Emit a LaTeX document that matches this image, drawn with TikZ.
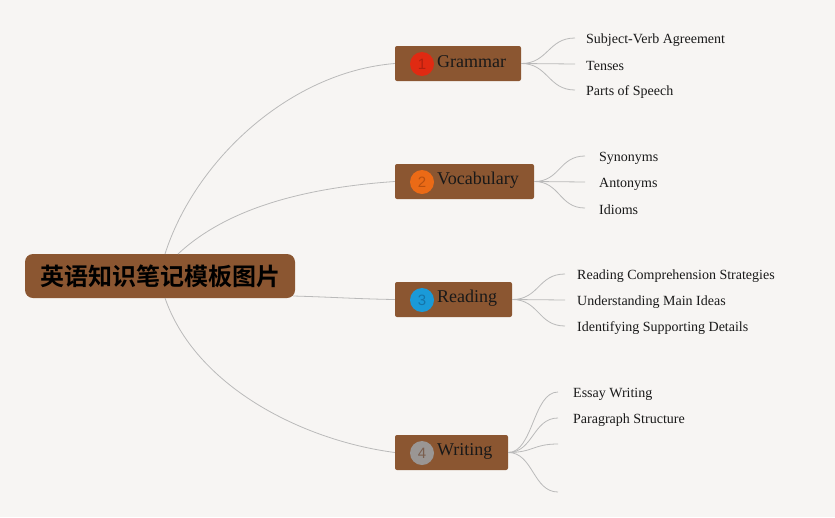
\documentclass[tikz,border=0pt]{standalone}
\usepackage{fontspec}
\setmainfont{Liberation Serif}
\setsansfont{Liberation Sans}
\newfontfamily\cjkbold{Noto Sans CJK SC}[BoldFont=* Bold]
\begin{document}
\begin{tikzpicture}[x=1pt,y=-1pt,
  conn/.style={draw=black!27, line width=0.8pt},
  topicbox/.style={fill=boxbrown, rounded corners=2pt, inner sep=0pt},
  numdot/.style={circle, inner sep=0pt, minimum size=24pt, font=\sffamily\fontsize{15}{15}\selectfont},
  toplabel/.style={anchor=west, inner sep=0pt, font=\fontsize{18}{20}\selectfont, text=black!90},
  leaf/.style={anchor=west, inner sep=0pt, font=\fontsize{14}{16}\selectfont, text=black!90}]
\definecolor{bg}{HTML}{F7F5F3}
\definecolor{boxbrown}{HTML}{8B5631}
\definecolor{redc}{HTML}{E02A12}
\definecolor{redt}{HTML}{B0200F}
\definecolor{orc}{HTML}{EB6A16}
\definecolor{ort}{HTML}{B8500F}
\definecolor{blc}{HTML}{1A9AD8}
\definecolor{blt}{HTML}{1574A8}
\definecolor{grc}{HTML}{9A9694}
\definecolor{grt}{HTML}{7A5E4E}
\fill[bg] (0,0) rectangle (835,517);
\useasboundingbox (0,0) rectangle (835,517);

% root
\node[fill=boxbrown, rounded corners=8pt, minimum width=270pt, minimum height=44pt, inner sep=0pt,
  font=\cjkbold\bfseries\fontsize{24}{27}\selectfont] (root) at (160,276) {英语知识笔记模板图片};

% topic boxes
\node[topicbox, minimum width=126pt, minimum height=35pt] (g) at (458,63.5) {};
\node[topicbox, minimum width=139pt, minimum height=35pt] (v) at (464.5,181.5) {};
\node[topicbox, minimum width=117pt, minimum height=35pt] (r) at (453.5,299.5) {};
\node[topicbox, minimum width=113pt, minimum height=35pt] (w) at (451.5,452.5) {};

\node[numdot, fill=redc, text=redt] (gn) at (422,64) {1};
\node[numdot, fill=orc, text=ort] (vn) at (422,182) {2};
\node[numdot, fill=blc, text=blt] (rn) at (422,300) {3};
\node[numdot, fill=grc, text=grt] (wn) at (422,453) {4};

\node[toplabel] (gl) at (437,62) {Grammar};
\node[toplabel] (vl) at (437,180) {Vocabulary};
\node[toplabel] (rl) at (437,298) {Reading};
\node[toplabel] (wl) at (437,451) {Writing};

% root connectors
\coordinate (rs1) at (165,254);
\coordinate (rs2) at (178,254);
\coordinate (rs3) at (293,296);
\coordinate (rs4) at (165,298);
\draw[conn] (rs1) .. controls (195,160) and (290,72) .. (g.west);
\draw[conn] (rs2) .. controls (225,210) and (300,188) .. (v.west);
\draw[conn] (rs3) .. controls (330,297) and (360,299) .. (r.west);
\draw[conn] (rs4) .. controls (195,385) and (300,440) .. (w.west);

% leaves: Grammar
\coordinate (ga) at (575,38); \coordinate (gb) at (575,64); \coordinate (gc) at (575,90);
\node[leaf] (g1) at (586,40) {Subject-Verb Agreement};
\node[leaf] (g2) at (586,66) {Tenses};
\node[leaf] (g3) at (586,92) {Parts of Speech};
\foreach \t in {ga,gb,gc}
  \draw[conn] (g.east) .. controls +(27,0) and +(-27,0) .. (\t);

% leaves: Vocabulary
\coordinate (va) at (585,156); \coordinate (vb) at (585,182); \coordinate (vc) at (585,208);
\node[leaf] (v1) at (599,158) {Synonyms};
\node[leaf] (v2) at (599,184) {Antonyms};
\node[leaf] (v3) at (599,210) {Idioms};
\foreach \t in {va,vb,vc}
  \draw[conn] (v.east) .. controls +(26,0) and +(-26,0) .. (\t);

% leaves: Reading
\coordinate (ra) at (565,274); \coordinate (rb) at (565,300); \coordinate (rc) at (565,326);
\node[leaf] (r1) at (577,276) {Reading Comprehension Strategies};
\node[leaf] (r2) at (577,302) {Understanding Main Ideas};
\node[leaf] (r3) at (577,328) {Identifying Supporting Details};
\foreach \t in {ra,rb,rc}
  \draw[conn] (r.east) .. controls +(27,0) and +(-27,0) .. (\t);

% leaves: Writing
\coordinate (wa) at (558,392); \coordinate (wb) at (558,418); \coordinate (wc) at (558,444); \coordinate (wd) at (558,492);
\node[leaf] (w1) at (573,394) {Essay Writing};
\node[leaf] (w2) at (573,420) {Paragraph Structure};
\foreach \t in {wa,wb,wc,wd}
  \draw[conn] (w.east) .. controls +(25,0) and +(-25,0) .. (\t);
\end{tikzpicture}
\end{document}
